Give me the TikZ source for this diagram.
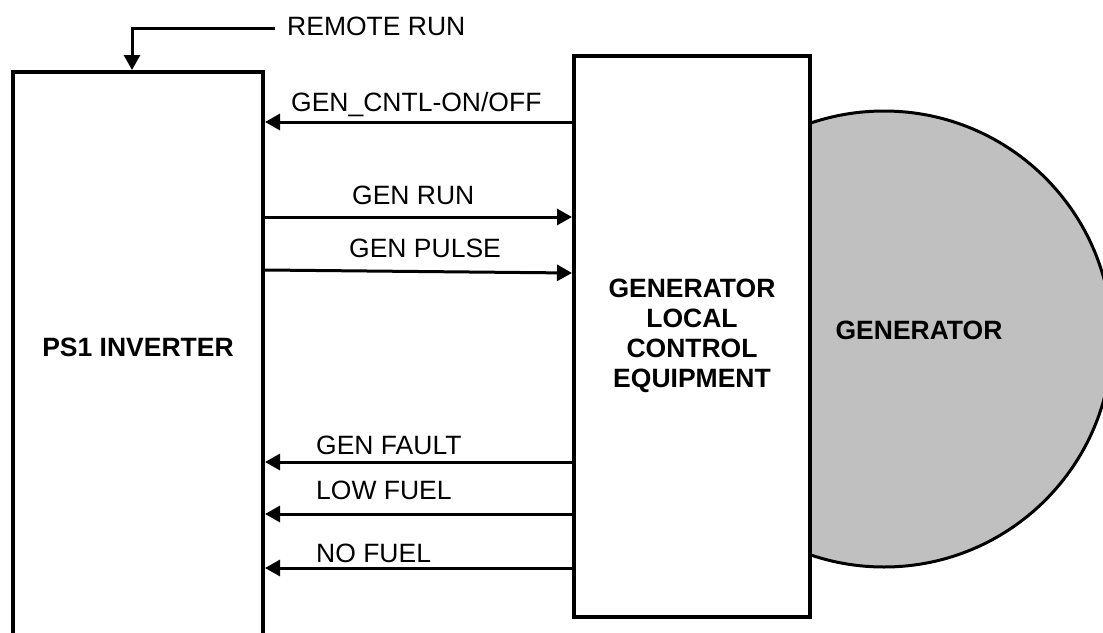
\documentclass[tikz,border=0pt]{standalone}
\usepackage{fontspec}
\setmainfont{Liberation Sans}
\usetikzlibrary{arrows.meta}
\definecolor{gengray}{RGB}{192,192,192}

\begin{document}
\begin{tikzpicture}[
        x=1pt, y=-1pt,
        box/.style={draw, line width=4pt, fill=white, inner sep=0pt},
        title/.style={font=\fontsize{26.5}{30}\selectfont\bfseries, align=center, inner sep=0pt},
        sig/.style={line width=3pt, -{Triangle[length=15pt, width=16pt]}},
        sigtext/.style={font=\fontsize{26.5}{30}\selectfont, inner sep=0pt, anchor=base west}
    ]

        \useasboundingbox (0,0) rectangle (1103,632);
        \clip (0,0) rectangle (1103,632);

        \node[circle, draw, line width=3pt, fill=gengray, minimum size=456pt, inner sep=0pt] (gen) at (884,339) {};
        \node[title] (genlabel) at (919,330) {GENERATOR};

        \node[box, minimum width=250pt, minimum height=600pt] (inv) at (138,372) {};
        \node[title] (invlabel) at (138,347) {PS1 INVERTER};

        \node[box, minimum width=236pt, minimum height=561pt, font=\fontsize{26.5}{30}\selectfont\bfseries, align=center] (ctrl) at (692,336) {GENERATOR\\LOCAL\\CONTROL\\EQUIPMENT};

        \node[sigtext] (lremote) at (287,35) {REMOTE RUN};
        \coordinate (rrstart) at (275,28);
        \draw[sig] (rrstart) -| ([xshift=-6pt]inv.north);

        \node[sigtext] (lcntl) at (291,111) {GEN\_CNTL-ON/OFF};
        \draw[sig] (ctrl.west |- 0,122) -- (inv.east |- 0,122);

        \node[sigtext] (lrun) at (352,204) {GEN RUN};
        \draw[sig] (inv.east |- 0,217) -- (ctrl.west |- 0,217);

        \node[sigtext] (lpulse) at (349,257) {GEN PULSE};
        \draw[sig] (inv.east |- 0,270) -- (ctrl.west |- 0,273);

        \node[sigtext] (lfault) at (316,454) {GEN FAULT};
        \draw[sig] (ctrl.west |- 0,462) -- (inv.east |- 0,462);

        \node[sigtext] (llow) at (316,499) {LOW FUEL};
        \draw[sig] (ctrl.west |- 0,514) -- (inv.east |- 0,514);

        \node[sigtext] (lno) at (316,562) {NO FUEL};
        \draw[sig] (ctrl.west |- 0,568) -- (inv.east |- 0,568);

    \end{tikzpicture}
\end{document}
